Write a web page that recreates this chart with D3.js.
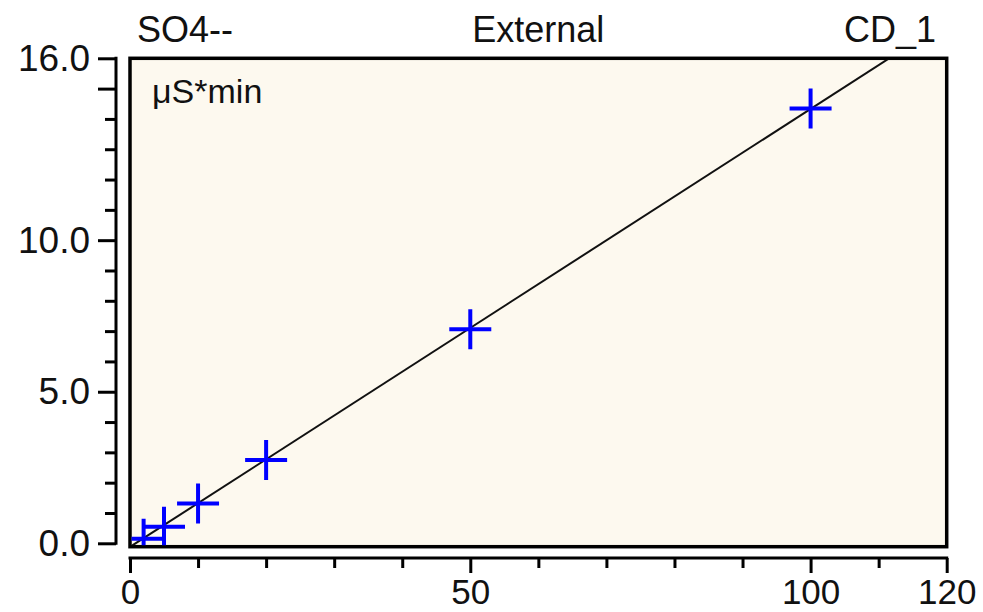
<!DOCTYPE html>
<html><head><meta charset="utf-8">
<script src="https://cdn.jsdelivr.net/npm/d3@7/dist/d3.min.js"></script>
<style>
body{margin:0;background:#fff}
svg{display:block}
text{font-family:"Liberation Sans",Arial,sans-serif;fill:#111}
</style>
</head><body>
<svg id="c" width="983" height="612"></svg>
<script>
// ---- data ----
const concentrations = [2, 5, 10, 20, 50, 100];
const areas = [0.15, 0.55, 1.31, 2.75, 7.06, 14.34];
const fitSlope = [0.1445];
const fitOffset = [-0.12];
const xTickValues = [0, 10, 20, 30, 40, 50, 60, 70, 80, 90, 100, 110, 120];
const xMajorTicks = [0, 50, 100, 120];
const xTickLabels = [0, 50, 100, 120];
const yTickValues = [0,1,2,3,4,5,6,7,8,9,10,11,12,13,14,15,16];
const yMajorTicks = [0, 5, 10, 15, 16];
const yTickLabels = [0, 5, 10, 16];
const titleLeft = "SO4--";
const titleCenter = "External";
const titleRight = "CD_1";
const unitLabel = "μS*min";

// ---- layout ----
const svg = d3.select("#c");
const pLeft = 130, pRight = 946.7, pTop = 58.3, zeroY = 543.3, boxBottom = 546.7;
const x = d3.scaleLinear().domain([0, 120]).range([pLeft, pRight]);
const y = d3.scaleLinear().domain([0, 16]).range([zeroY, pTop]);

// plot box
svg.append("rect")
  .attr("x", pLeft).attr("y", pTop)
  .attr("width", pRight - pLeft).attr("height", boxBottom - pTop)
  .attr("fill", "#fdf9ef").attr("stroke", "#000").attr("stroke-width", 3.5);

svg.append("clipPath").attr("id", "clip").append("rect")
  .attr("x", pLeft + 1.5).attr("y", pTop + 1.5)
  .attr("width", pRight - pLeft - 3).attr("height", boxBottom - pTop - 3);

const plot = svg.append("g").attr("clip-path", "url(#clip)");

// regression line
const line = d3.line().x(d => x(d)).y(d => y(fitSlope[0] * d + fitOffset[0]));
plot.append("path")
  .attr("d", line([0, 120]))
  .attr("fill", "none").attr("stroke", "#111").attr("stroke-width", 2);

// crosses
const pts = concentrations.map((c, i) => [c, areas[i]]);
plot.selectAll("path.pt").data(pts).join("path")
  .attr("class", "pt")
  .attr("d", d => {
    const cx = x(d[0]), cy = y(d[1]);
    return `M${cx - 21},${cy}H${cx + 21}M${cx},${cy - 20}V${cy + 20}`;
  })
  .attr("fill", "none").attr("stroke", "#0000ff").attr("stroke-width", 4);

// y axis
const yAxisX = 116;
const gyMinor = svg.append("g").attr("transform", `translate(${yAxisX},0)`)
  .call(d3.axisLeft(y).tickValues(yTickValues.filter(v => !yMajorTicks.includes(v)))
    .tickSize(11).tickSizeOuter(0).tickFormat(""));
const gyMajor = svg.append("g").attr("transform", `translate(${yAxisX},0)`)
  .call(d3.axisLeft(y).tickValues(yMajorTicks).tickSize(18).tickSizeOuter(0).tickPadding(8)
    .tickFormat(d => yTickLabels.includes(d) ? d3.format(".1f")(d) : ""));
[gyMinor, gyMajor].forEach(g => {
  g.select(".domain").remove();
  g.selectAll("line").attr("stroke", "#000").attr("stroke-width", 3);
});
gyMajor.selectAll("text").attr("font-size", 37)
  .attr("font-family", "'Liberation Sans', Arial, sans-serif").attr("fill", "#111");
svg.append("line").attr("x1", yAxisX).attr("x2", yAxisX)
  .attr("y1", y(0) + 1.5).attr("y2", y(16) - 1.5)
  .attr("stroke", "#000").attr("stroke-width", 3);

// x axis
const xAxisY = 558;
const gxMinor = svg.append("g").attr("transform", `translate(0,${xAxisY})`)
  .call(d3.axisBottom(x).tickValues(xTickValues.filter(v => !xMajorTicks.includes(v)))
    .tickSize(10).tickSizeOuter(0).tickFormat(""));
const gxMajor = svg.append("g").attr("transform", `translate(0,${xAxisY})`)
  .call(d3.axisBottom(x).tickValues(xMajorTicks).tickSize(15).tickSizeOuter(0).tickPadding(6)
    .tickFormat(d => xTickLabels.includes(d) ? String(d) : ""));
[gxMinor, gxMajor].forEach(g => {
  g.select(".domain").remove();
  g.selectAll("line").attr("stroke", "#000").attr("stroke-width", 3);
});
gxMajor.selectAll("text").attr("font-size", 35)
  .attr("font-family", "'Liberation Sans', Arial, sans-serif").attr("fill", "#111");
svg.append("line").attr("y1", xAxisY).attr("y2", xAxisY)
  .attr("x1", x(0) - 1.5).attr("x2", x(120) + 1.5)
  .attr("stroke", "#000").attr("stroke-width", 3);

// titles
svg.append("text").attr("x", 137).attr("y", 42).attr("font-size", 36).text(titleLeft);
svg.append("text").attr("x", (pLeft + pRight) / 2).attr("y", 42).attr("font-size", 36)
  .attr("text-anchor", "middle").text(titleCenter);
svg.append("text").attr("x", 936).attr("y", 42).attr("font-size", 36)
  .attr("text-anchor", "end").text(titleRight);
svg.append("text").attr("x", 152).attr("y", 103).attr("font-size", 34).text(unitLabel);
</script>
</body></html>
